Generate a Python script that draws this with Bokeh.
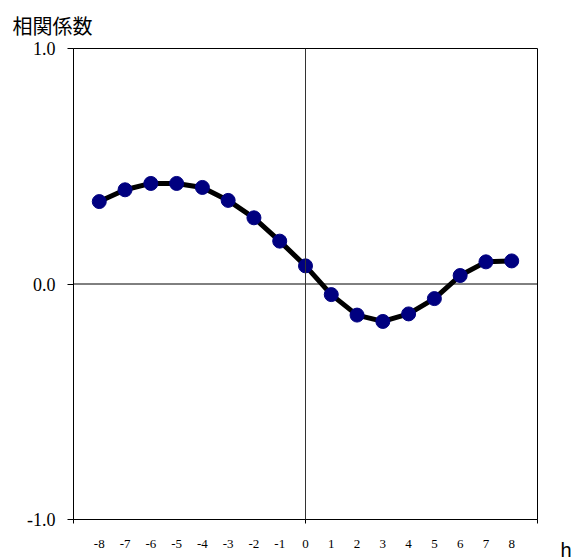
from bokeh.plotting import figure
from bokeh.models import FixedTicker, Span, Label, Range1d, Title
from bokeh.embed import file_html
from bokeh.resources import INLINE

lags = [-8, -7, -6, -5, -4, -3, -2, -1, 0, 1, 2, 3, 4, 5, 6, 7, 8]
corr = [0.350, 0.400, 0.427, 0.427, 0.410, 0.355, 0.281, 0.182, 0.077,
        -0.045, -0.132, -0.159, -0.127, -0.062, 0.036, 0.094, 0.098]
x_tick_labels = {v: str(v) for v in lags}
y_ticks = [-1.0, 0.0, 1.0]
y_tick_labels = {-1.0: "-1.0", 0.0: "0.0", 1.0: "1.0"}
x_tick_marks = [-9, 0, 9]
title_text = "相関係数"
x_name = "h"

p = figure(width=582, height=557, output_backend="svg", toolbar_location=None,
           x_range=Range1d(-9, 9), y_range=Range1d(-1, 1),
           min_border_left=73, min_border_right=45, min_border_top=48, min_border_bottom=38)
p.background_fill_color = "white"
p.border_fill_color = "white"
p.outline_line_color = "black"
p.outline_line_width = 1
p.grid.visible = False

p.title = Title(text=title_text, align="left", offset=-61, standoff=17,
                text_font="Noto Sans CJK JP", text_font_size="20px",
                text_font_style="normal", text_color="black")

xa = p.xaxis[0]
xa.ticker = FixedTicker(ticks=lags, minor_ticks=x_tick_marks)
xa.major_label_overrides = x_tick_labels
xa.major_tick_line_color = None
xa.minor_tick_out = 4
xa.minor_tick_in = 0
xa.minor_tick_line_color = "black"
xa.axis_line_color = "black"
xa.major_label_standoff = 14
xa.major_label_text_font = "Liberation Serif"
xa.major_label_text_font_size = "13px"
xa.major_label_text_color = "black"

ya = p.yaxis[0]
ya.ticker = FixedTicker(ticks=y_ticks, minor_ticks=[])
ya.major_label_overrides = y_tick_labels
ya.major_tick_out = 6
ya.major_tick_in = 0
ya.major_tick_line_color = "black"
ya.minor_tick_line_color = None
ya.axis_line_color = "black"
ya.major_label_standoff = 12
ya.major_label_text_font = "Liberation Serif"
ya.major_label_text_font_size = "18px"
ya.major_label_text_color = "black"

p.add_layout(Span(location=0, dimension="width", line_color="black", line_width=1))
p.add_layout(Span(location=0, dimension="height", line_color="#333333", line_width=1))

p.line(lags, corr, line_color="black", line_width=5)
p.scatter(lags, corr, size=14, fill_color="#000080", line_color="#000080")

p.add_layout(Label(x=23, y=-30, x_units="screen", y_units="screen", text=x_name,
                   text_font="Liberation Sans", text_font_size="20px",
                   text_baseline="alphabetic", text_color="black"), "right")

open("out.html", "w").write(file_html(p, INLINE))
